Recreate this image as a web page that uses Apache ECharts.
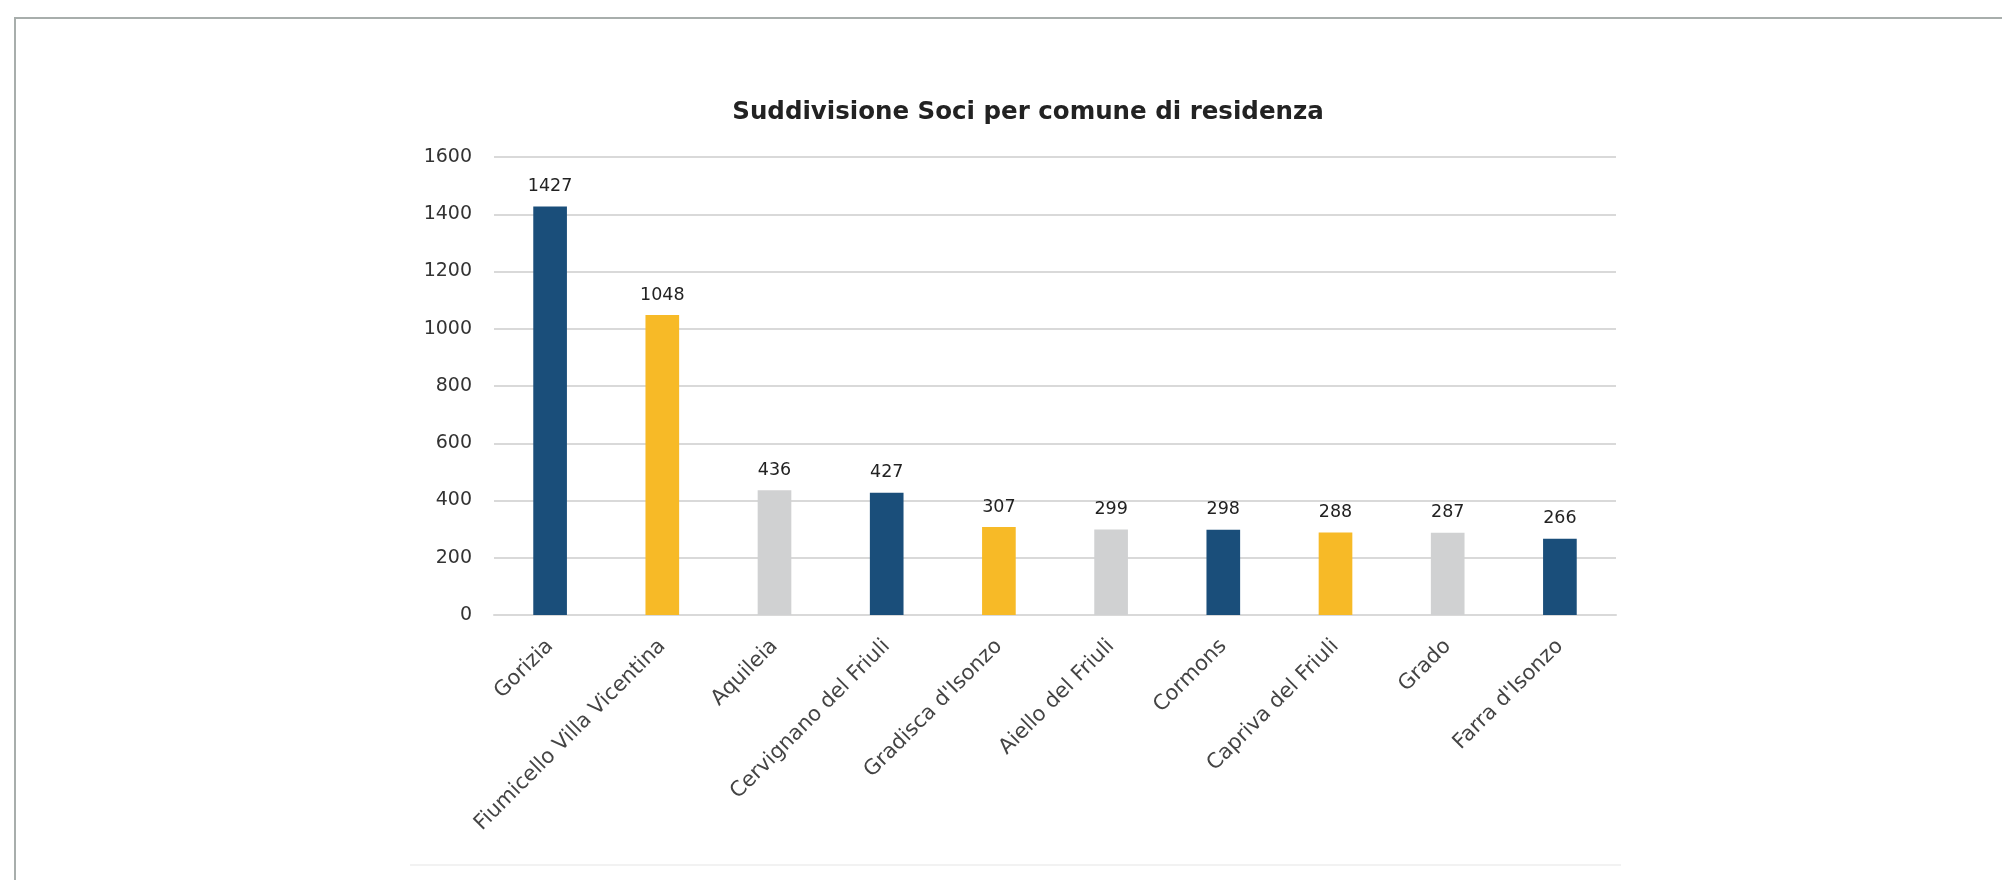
<!DOCTYPE html>
<html>
<head>
<meta charset="utf-8">
<script src="https://cdn.jsdelivr.net/npm/echarts@6/dist/echarts.min.js"></script>
<style>
html,body{margin:0;padding:0;background:#fff;}
#c{width:2002px;height:880px;}
</style>
</head>
<body>
<div id="c"></div>
<script>
const titleText = 'Suddivisione Soci per comune di residenza';
const categories = ['Gorizia','Fiumicello Villa Vicentina','Aquileia','Cervignano del Friuli','Gradisca d\'Isonzo','Aiello del Friuli','Cormons','Capriva del Friuli','Grado','Farra d\'Isonzo'];
const values = [1427,1048,436,427,307,299,298,288,287,266];
const palette = ['#1A4E7A','#F7BA27','#D0D1D2'];
const yTicks = {min:0, max:1600, interval:200};

const chart = echarts.init(document.getElementById('c'), null, {renderer:'canvas'});
const font = 'DejaVu Sans';
chart.setOption({
  animation:false,
  backgroundColor:'#ffffff',
  title:{
    text:titleText, left:1023, top:95, textAlign:'center',
    textStyle:{fontFamily:font, fontWeight:'bold', fontSize:24.5, color:'#222'}
  },
  graphic:[
    {type:'rect', shape:{x:15,y:18,width:2200,height:1000}, style:{fill:'none', stroke:'#a8aeac', lineWidth:2}, silent:true},
    {type:'line', shape:{x1:410,y1:865,x2:1621,y2:865}, style:{stroke:'#f2f2f2', lineWidth:2}, silent:true}
  ],
  grid:{left:494, right:386, top:157, bottom:265, containLabel:false},
  xAxis:{
    type:'category', data:categories,
    axisLine:{show:true, lineStyle:{color:'#d9d9d9', width:2}},
    axisTick:{show:false},
    axisLabel:{rotate:45, interval:0, margin:28, fontFamily:font, fontSize:21, color:'#444'}
  },
  yAxis:{
    type:'value', min:yTicks.min, max:yTicks.max, interval:yTicks.interval,
    axisLine:{show:false}, axisTick:{show:false},
    splitLine:{lineStyle:{color:'#d9d9d9', width:2}},
    axisLabel:{margin:22, fontFamily:font, fontSize:19, color:'#333', formatter:v=>String(v)}
  },
  series:[{
    type:'bar', barWidth:'30%',
    data: values.map((v,i)=>({value:v, itemStyle:{color:palette[i%palette.length]}})),
    label:{show:true, position:'top', distance:11, fontFamily:font, fontSize:17.5, color:'#222'}
  }]
});
</script>
</body>
</html>
